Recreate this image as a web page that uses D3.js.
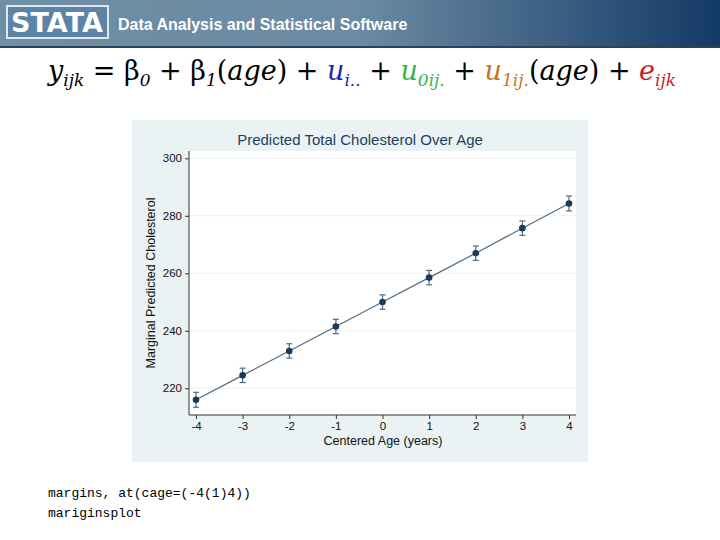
<!DOCTYPE html>
<html><head><meta charset="utf-8">
<script src="https://cdn.jsdelivr.net/npm/d3@7"></script>
<style>body{margin:0;background:#fff}</style>
</head><body><div id="c"></div>
<script>
// data
var ages = [-4, -3, -2, -1, 0, 1, 2, 3, 4];
var margins = [216.0, 224.5, 233.0, 241.5, 250.0, 258.5, 267.0, 275.7, 284.3];
var ciHalf = [2.6, 2.5, 2.5, 2.5, 2.5, 2.5, 2.5, 2.5, 2.6];
var yTicks = [220, 240, 260, 280, 300];

var svg = d3.select("#c").append("svg").attr("width", 720).attr("height", 540);

// header band
var grad = svg.append("defs").append("linearGradient").attr("id", "hg")
    .attr("x1", 0).attr("x2", 1).attr("y1", 0).attr("y2", 0);
grad.append("stop").attr("offset", 0).attr("stop-color", "#6f8fa6");
grad.append("stop").attr("offset", 0.5).attr("stop-color", "#6b8aa3");
grad.append("stop").attr("offset", 1).attr("stop-color", "#143a66");
svg.append("rect").attr("width", 720).attr("height", 46).attr("fill", "url(#hg)");
svg.append("rect").attr("y", 46).attr("width", 720).attr("height", 2).attr("fill", "#2c4258");
svg.append("rect").attr("x", 7).attr("y", 6).attr("width", 101).attr("height", 32)
    .attr("fill", "#5d84a6").attr("stroke", "#dfe8ef").attr("stroke-width", 2);
svg.append("text").attr("x", 57).attr("y", 32).attr("text-anchor", "middle")
    .attr("font-family", "DejaVu Sans").attr("font-weight", "bold").attr("font-size", 27)
    .attr("fill", "#fff").text("STATA");
svg.append("text").attr("x", 118).attr("y", 30)
    .attr("font-family", "Liberation Sans").attr("font-weight", "bold").attr("font-size", 16)
    .attr("fill", "#fff").text("Data Analysis and Statistical Software");

// formula
var f = svg.append("text").attr("x", 48).attr("y", 80)
    .attr("font-family", "DejaVu Serif").attr("font-size", 27).attr("fill", "#000")
    .attr("xml:space", "preserve");
var shift = 0;
function part(t, col, it) {
  var s = f.append("tspan").attr("fill", col || "#000").attr("dy", -shift).text(t);
  shift = 0;
  if (it) s.attr("font-style", "italic");
}
function sub(t, col) {
  f.append("tspan").attr("fill", col || "#000").attr("font-size", 17).attr("dy", 6 - shift)
    .attr("font-style", "italic").text(t);
  shift = 6;
}
part("y", "#000", 1); sub("ijk");
part(" = β"); sub("0");
part(" + β"); sub("1");
part("("); part("age", "#000", 1); part(") + ");
part("u", "#1f1fb0", 1); sub("i..", "#1f1fb0");
part(" + "); part("u", "#2eb84a", 1); sub("0ij.", "#2eb84a");
part(" + "); part("u", "#c8731f", 1); sub("1ij.", "#c8731f");
part("("); part("age", "#000", 1); part(") + ");
part("e", "#d01c1c", 1); sub("ijk", "#d01c1c");

// chart panel
svg.append("rect").attr("x", 132).attr("y", 120).attr("width", 456).attr("height", 342).attr("fill", "#eaf2f3");
var L = 189, R = 576, T = 151, B = 415;
svg.append("rect").attr("x", L).attr("y", T).attr("width", R - L).attr("height", B - T).attr("fill", "#fff");

var x = d3.scaleLinear().domain([-4, 4]).range([196, 569]);
var y = d3.scaleLinear().domain([220, 300]).range([388.3, 158.3]);

svg.append("g").selectAll("line").data(yTicks).enter().append("line")
    .attr("x1", L).attr("x2", R).attr("y1", d => y(d)).attr("y2", d => y(d))
    .attr("stroke", "#eaf2f3");

var yAx = svg.append("g").attr("transform", "translate(" + L + ",0)")
    .call(d3.axisLeft(y).tickValues(yTicks).tickSize(4).tickPadding(3));
yAx.select(".domain").attr("d", "M0," + T + "V" + B);
var xAx = svg.append("g").attr("transform", "translate(0," + B + ")")
    .call(d3.axisBottom(x).tickValues(ages).tickSize(4).tickPadding(3).tickFormat(d => String(d)));
xAx.select(".domain").attr("d", "M" + L + ",0H" + R);
svg.selectAll(".tick text").attr("font-family", "Liberation Sans").attr("font-size", 11.5).attr("fill", "#111");
svg.selectAll(".domain, .tick line").attr("stroke", "#333");

svg.append("text").attr("x", 360).attr("y", 145).attr("text-anchor", "middle")
    .attr("font-family", "Liberation Sans").attr("font-size", 15).attr("fill", "#1e3f5e")
    .text("Predicted Total Cholesterol Over Age");
svg.append("text").attr("x", 383).attr("y", 445).attr("text-anchor", "middle")
    .attr("font-family", "Liberation Sans").attr("font-size", 12.5).attr("fill", "#111")
    .text("Centered Age (years)");
svg.append("text").attr("transform", "translate(155,283) rotate(-90)").attr("text-anchor", "middle")
    .attr("font-family", "Liberation Sans").attr("font-size", 12.5).attr("fill", "#111")
    .text("Marginal Predicted Cholesterol");

// line
svg.append("path").datum(ages).attr("fill", "none").attr("stroke", "#4f6b80").attr("stroke-width", 1.2)
    .attr("d", d3.line().x(d => x(d)).y((d, i) => y(margins[i])));

// CIs
var ci = svg.append("g").attr("stroke", "#4f6b80").attr("stroke-width", 1.2);
ages.forEach(function (a, i) {
  var lo = y(margins[i] - ciHalf[i]), hi = y(margins[i] + ciHalf[i]), cx = x(a);
  ci.append("line").attr("x1", cx).attr("x2", cx).attr("y1", lo).attr("y2", hi);
  ci.append("line").attr("x1", cx - 3).attr("x2", cx + 3).attr("y1", lo).attr("y2", lo);
  ci.append("line").attr("x1", cx - 3).attr("x2", cx + 3).attr("y1", hi).attr("y2", hi);
});
svg.append("g").selectAll("circle").data(ages).enter().append("circle")
    .attr("cx", d => x(d)).attr("cy", (d, i) => y(margins[i])).attr("r", 3.3).attr("fill", "#1a3a5a");

// code lines
svg.append("text").attr("x", 48).attr("y", 497).attr("font-family", "Liberation Mono").attr("font-size", 13)
    .attr("xml:space", "preserve").text("margins, at(cage=(-4(1)4))");
svg.append("text").attr("x", 48).attr("y", 517).attr("font-family", "Liberation Mono").attr("font-size", 13)
    .text("mariginsplot");
</script></body></html>
